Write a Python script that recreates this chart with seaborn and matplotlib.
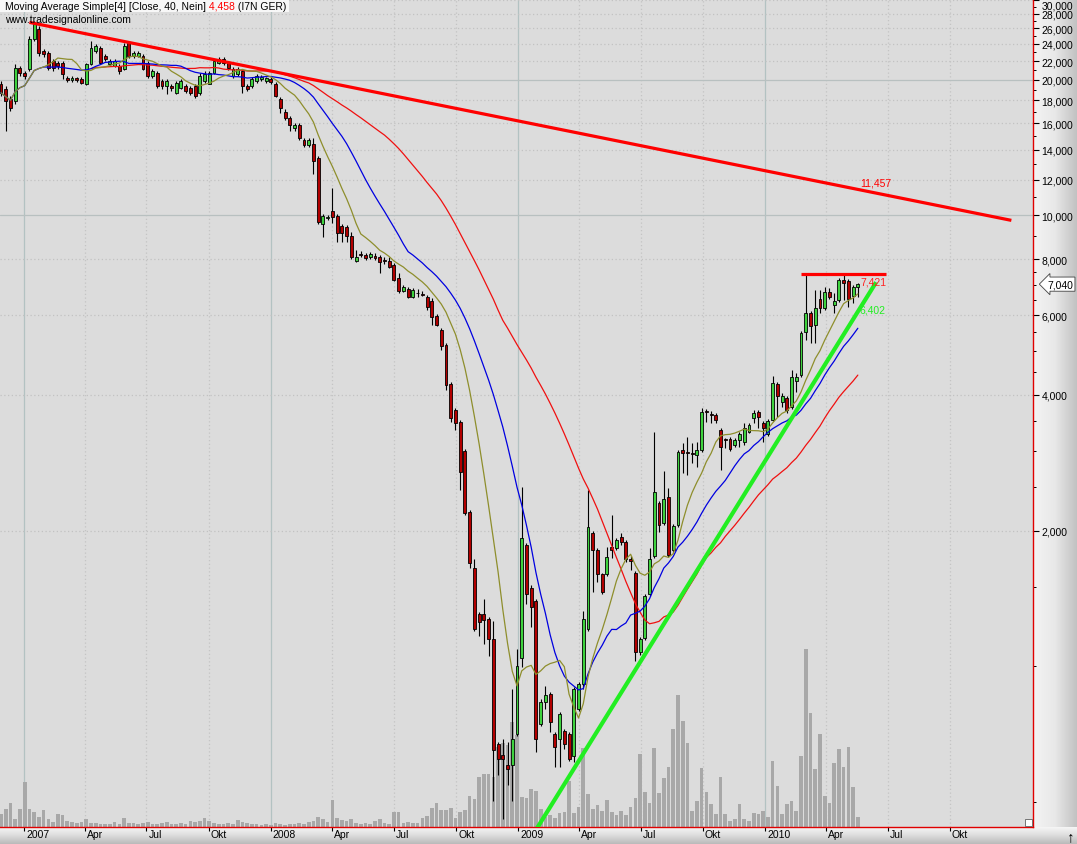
import numpy as np
import pandas as pd
import matplotlib
matplotlib.use("Agg")
import matplotlib.pyplot as plt
import matplotlib.ticker as mticker
import matplotlib.transforms as mtransforms
from matplotlib.colors import LinearSegmentedColormap
from matplotlib.patches import Rectangle
import seaborn as sns

# weekly bars, first bar is the week of 28 Nov 2006
WEEK_START = "2006-11-28"

OPEN = [
    19592, 19097, 18149, 17966, 21255, 20722, 21147, 24640, 25930, 23178,
    22946, 22027, 21806, 21806, 20199, 19995, 20199, 20097, 19592, 21694,
    23178, 23537, 22596, 21694, 21473, 21473, 21147, 24146, 22596, 22596,
    22596, 21806, 20406, 20722, 19892, 19392, 19392, 18713, 19195, 19392,
    19195, 19392, 18713, 19892, 19592, 20722, 21806, 22254, 21806, 20406,
    20616, 20932, 19392, 19392, 19892, 20097, 19892, 20097, 19592, 18149,
    16988, 16475, 15657, 15898, 14728, 14358, 14432, 13438, 9552, 9848,
    10205, 9949, 9455, 9407, 8985, 7911, 8198, 8156, 8074, 8115,
    8074, 7951, 7911, 7751, 7254, 6789, 6859, 6585, 6721, 6687,
    6585, 6453, 5977, 5565, 5157, 4228, 3705, 3484, 3005, 2202,
    1655, 1303, 1303, 1270, 1147, 672, 635, 604, 604, 707,
    1042, 1862, 1495, 1393, 744, 832, 867, 707, 689, 718,
    707, 632, 803, 912, 1207, 1979, 1815, 1598, 1598, 1843,
    1834, 1939, 1891, 1725, 1614, 1074, 1153, 1443, 1760, 2305,
    2082, 2378, 1815, 2061, 3020, 2990, 2974, 2944, 3020, 3686,
    3629, 3610, 3345, 3195, 3195, 3098, 3179, 3146, 3311, 3555,
    3666, 3466, 3277, 3519, 4228, 3858, 3937, 3761, 4292, 4426,
    5508, 6069, 5710, 6519, 6226, 6755, 6322, 6486, 7180, 7144,
    6619, 6929,
]
HIGH = [
    19892, 19392, 18429, 21694, 21473, 20932, 25020, 27008, 26329, 23416,
    23178, 22254, 22027, 22027, 20406, 20406, 20302, 20302, 21806, 24390,
    24022, 23777, 22829, 22254, 22254, 21694, 24146, 24390, 23178, 23178,
    22829, 22027, 21147, 20932, 20097, 20097, 19592, 19892, 20097, 19592,
    19392, 19592, 20722, 20932, 20932, 22254, 22481, 22481, 22027, 21364,
    21364, 21147, 19592, 20302, 20616, 20510, 20302, 20302, 19792, 18335,
    17248, 16644, 16062, 16062, 14879, 14879, 14879, 13575, 10051, 10000,
    11474, 10051, 9552, 9503, 9171, 8367, 8324, 8240, 8282, 8240,
    8156, 8074, 8074, 7831, 7442, 7000, 6929, 6894, 6859, 6789,
    6653, 6552, 6039, 5623, 5210, 4271, 3742, 3519, 3036, 2224,
    1725, 1316, 1407, 1283, 1258, 679, 689, 679, 889, 1090,
    2501, 1881, 1518, 1407, 845, 903, 876, 714, 791, 726,
    714, 898, 921, 1323, 2464, 1999, 1834, 1614, 1843, 2169,
    1929, 1979, 1910, 1760, 1630, 1159, 1443, 1834, 3311, 2329,
    2714, 2489, 2072, 3020, 3130, 3228, 3130, 3146, 3742, 3723,
    3686, 3647, 3379, 3211, 3228, 3211, 3311, 3466, 3466, 3705,
    3705, 3501, 3537, 4404, 4271, 4038, 3977, 4540, 4471, 5536,
    7366, 6131, 6824, 6824, 6929, 6894, 6721, 7254, 7366, 7217,
    7000, 7072,
]
LOW = [
    18429, 15418, 17073, 17693, 20406, 20097, 20932, 24390, 22596, 22481,
    21040, 20932, 21147, 20097, 19792, 19792, 19792, 19592, 19490, 21583,
    22946, 21694, 22027, 21473, 21364, 20616, 21040, 22367, 22367, 22481,
    21040, 20199, 20199, 19195, 19097, 18618, 18904, 18618, 19097, 18713,
    18523, 18242, 18523, 19692, 19592, 20616, 21694, 21583, 21040, 20199,
    20406, 18713, 18904, 19195, 19692, 19892, 19692, 19592, 18335, 16902,
    16310, 15418, 15418, 14728, 14212, 14212, 12386, 9552, 8939, 9748,
    9601, 8716, 8716, 8716, 7992, 7871, 8074, 7951, 7992, 7951,
    7442, 7791, 7634, 7144, 6721, 6755, 6552, 6552, 6585, 6619,
    6163, 5710, 5681, 5027, 4100, 3484, 3345, 2464, 2169, 1655,
    1195, 1165, 1118, 1052, 503, 574, 458, 545, 503, 700,
    995, 1371, 1219, 645, 736, 803, 714, 598, 598, 655,
    616, 613, 795, 889, 1195, 1458, 1534, 1443, 1582, 1742,
    1815, 1862, 1707, 1639, 1026, 1058, 1141, 1428, 1742, 1989,
    2061, 1751, 1796, 2040, 2686, 2659, 2826, 2770, 2990, 3484,
    3466, 3466, 2728, 3051, 3005, 3067, 3067, 3098, 3294, 3466,
    3379, 3146, 3244, 3501, 3573, 3761, 3647, 3723, 4059, 4381,
    5290, 5210, 5210, 6069, 6163, 6519, 6069, 6420, 6486, 6258,
    6387, 6585,
]
CLOSE = [
    18713, 17966, 17336, 21255, 20722, 20406, 24640, 26600, 22946, 22829,
    21255, 21255, 21473, 20616, 19995, 20199, 19995, 19692, 21694, 23537,
    23777, 21806, 22254, 22027, 22027, 20932, 23777, 22596, 22946, 22946,
    21147, 20406, 20932, 19392, 19392, 19892, 19195, 19692, 19892, 18904,
    18713, 18429, 20406, 20616, 20722, 22027, 22254, 21806, 21255, 21147,
    21147, 19392, 19097, 20097, 20406, 20302, 20199, 19792, 18429, 17336,
    16475, 15898, 15898, 14879, 14358, 14728, 13233, 9650, 9949, 9899,
    9899, 9123, 9123, 8985, 8074, 8074, 8180, 8033, 8198, 8033,
    7871, 7930, 7672, 7180, 6789, 6929, 6585, 6824, 6738, 6670,
    6258, 5947, 5710, 5131, 4206, 3555, 3466, 2700, 2191, 1698,
    1207, 1251, 1264, 1147, 652, 622, 622, 592, 689, 1000,
    1929, 1443, 1350, 689, 832, 863, 752, 662, 783, 672,
    622, 889, 912, 1270, 2040, 1815, 1598, 1458, 1751, 1815,
    1910, 1891, 1725, 1716, 1074, 1147, 1428, 1725, 2439, 2061,
    2354, 1769, 2051, 2990, 2974, 2974, 2959, 3020, 3666, 3666,
    3610, 3519, 3067, 3179, 3036, 3179, 3277, 3379, 3431, 3647,
    3573, 3379, 3501, 4250, 3977, 3977, 3705, 4381, 4381, 5480,
    6069, 5681, 6226, 6226, 6755, 6585, 6453, 7180, 7072, 6519,
    6929, 7040,
]
VOLUME = [
    13, 18, 24, 8, 18, 45, 18, 15, 10, 17,
    8, 5, 13, 12, 6, 5, 4, 5, 8, 4,
    4, 3, 3, 3, 5, 3, 9, 4, 4, 3,
    4, 5, 3, 3, 4, 5, 3, 3, 4, 3,
    6, 5, 6, 9, 6, 4, 3, 3, 4, 3,
    7, 5, 4, 3, 3, 2, 3, 2, 4, 3,
    2, 3, 3, 4, 3, 5, 6, 10, 8, 5,
    27, 9, 7, 6, 8, 4, 3, 4, 3, 6,
    8, 4, 3, 15, 15, 4, 5, 4, 4, 9,
    11, 19, 24, 17, 17, 19, 9, 15, 17, 31,
    28, 50, 53, 53, 50, 80, 84, 82, 105, 92,
    30, 29, 38, 36, 18, 10, 12, 9, 14, 15,
    46, 14, 20, 79, 33, 18, 22, 16, 27, 15,
    12, 16, 12, 20, 29, 73, 35, 24, 79, 34,
    49, 60, 98, 132, 106, 84, 16, 26, 59, 35,
    23, 13, 50, 13, 6, 8, 23, 8, 6, 14,
    13, 16, 10, 66, 41, 13, 23, 26, 16, 71,
    178, 114, 58, 93, 31, 24, 64, 78, 60, 80,
    40, 10,
]

# hand drawn lines on the chart
DOWNTREND_DATES = ["2007-01-09", "2010-12-31"]
DOWNTREND_VALUES = [26800, 9750]
UPTREND_DATES = ["2009-01-28", "2010-06-14"]
UPTREND_VALUES = [436, 7107]
RESISTANCE_DATES = ["2010-02-23", "2010-06-29"]
RESISTANCE_VALUE = 7421
LINE_LABELS = ["11,457", "7,421", "6,402"]

PRICE_TICKS = [2000, 4000, 6000, 8000, 10000, 12000, 14000, 16000, 18000,
               20000, 22000, 24000, 26000, 28000, 30000]
PRICE_MINOR = [500, 1000, 1500, 2500, 3000, 3500, 4500, 5000, 5500, 6500, 7000,
               7500, 9000, 11000, 13000, 15000, 17000, 19000, 21000, 23000,
               25000, 27000, 29000]
MONTH_TICKS = ["2007-01-01", "2007-04-01", "2007-07-01", "2007-10-01",
               "2008-01-01", "2008-04-01", "2008-07-01", "2008-10-01",
               "2009-01-01", "2009-04-01", "2009-07-01", "2009-10-01",
               "2010-01-01", "2010-04-01", "2010-07-01", "2010-10-01"]
MONTH_LABELS = ["2007", "Apr", "Jul", "Okt", "2008", "Apr", "Jul", "Okt",
                "2009", "Apr", "Jul", "Okt", "2010", "Apr", "Jul", "Okt"]

HEADER = "Moving Average Simple[4] [Close, 40, Nein]"
HEADER_VALUE = "4,458"
HEADER_TAIL = "(I7N GER)"
SOURCE = "www.tradesignalonline.com"

W, H = 1077, 845
PLOT_RIGHT, PLOT_BOTTOM = 1033, 828

dates = pd.date_range(WEEK_START, periods=len(CLOSE), freq="7D")
df = pd.DataFrame({"date": dates, "open": OPEN, "high": HIGH, "low": LOW,
                   "close": CLOSE, "volume": VOLUME})
df["sma10"] = df["close"].rolling(10, min_periods=1).mean()
df["sma20"] = df["close"].rolling(20, min_periods=1).mean()
df["sma40"] = df["close"].rolling(40, min_periods=20).mean()

sns.set_theme(style="white")
plt.rcParams["font.family"] = ["Liberation Sans", "DejaVu Sans"]
plt.rcParams["font.size"] = 7.5

fig = plt.figure(figsize=(W / 100, H / 100), dpi=100)
fig.patch.set_facecolor("#e6e6e6")

# gradient frame right and below the plot
bg = fig.add_axes([0, 0, 1, 1], zorder=-10)
side = LinearSegmentedColormap.from_list("side", ["#f4f4f4", "#e8e8e8", "#c2c2c2"])
foot = LinearSegmentedColormap.from_list("foot", ["#f6f6f6", "#dcdcdc", "#bababa"])
bg.imshow(np.linspace(0, 1, 100)[None, :], cmap=side, aspect="auto",
          extent=(PLOT_RIGHT, W, PLOT_BOTTOM, 0))
bg.imshow(np.linspace(0, 1, 100)[:, None], cmap=foot, aspect="auto",
          extent=(0, W, H, PLOT_BOTTOM))
bg.set_xlim(0, W)
bg.set_ylim(H, 0)
bg.set_axis_off()

rect = [0, (H - PLOT_BOTTOM) / H, PLOT_RIGHT / W, PLOT_BOTTOM / H]
ax_vol = fig.add_axes(rect)
ax_vol.set_facecolor("#dcdcdc")
ax = fig.add_axes(rect, sharex=ax_vol)
ax.set_facecolor("none")

month_ticks = pd.to_datetime(MONTH_TICKS)

# grid
for d, lab in zip(month_ticks, MONTH_LABELS):
    if lab.isdigit():
        ax_vol.axvline(d, color="#b3c2c2", lw=0.9, zorder=0)
    else:
        ax_vol.axvline(d, color="#c4c4c4", lw=0.9, ls=(0, (1, 2)), zorder=0)
for v in PRICE_TICKS:
    if v in (10000, 20000):
        ax.axhline(v, color="#b8c0c0", lw=0.9, zorder=0.5)
    else:
        ax.axhline(v, color="#c2c2c2", lw=0.9, ls=(0, (1, 2)), zorder=0.5)

# volume
ax_vol.bar(df["date"], df["volume"], width=5.4, color="#a8a8a8", linewidth=0, zorder=1)
ax_vol.set_ylim(0, PLOT_BOTTOM)
ax_vol.tick_params(left=False, bottom=False, labelleft=False, labelbottom=False)
for s in ax_vol.spines.values():
    s.set_visible(False)

# candles
up = df["close"] >= df["open"]
body_col = np.where(up, "#3ed23e", "#b20000")
ax.vlines(df["date"], df["low"], df["high"], color="black", linewidth=0.8, zorder=3)
ax.bar(df["date"], (df["close"] - df["open"]).abs(),
       bottom=np.minimum(df["open"], df["close"]), width=4.3,
       color=body_col, edgecolor="black", linewidth=0.6, zorder=4)

# moving averages
sns.lineplot(data=df, x="date", y="sma40", ax=ax, color="#f01010", linewidth=0.9, zorder=5)
sns.lineplot(data=df, x="date", y="sma20", ax=ax, color="#0000e0", linewidth=0.9, zorder=5)
sns.lineplot(data=df, x="date", y="sma10", ax=ax, color="#8e8e2c", linewidth=0.9, zorder=5)

# trend lines
ax.plot(pd.to_datetime(DOWNTREND_DATES), DOWNTREND_VALUES, color="#ff0000", lw=2.3,
        solid_capstyle="butt", zorder=6)
ax.plot(pd.to_datetime(UPTREND_DATES), UPTREND_VALUES, color="#22ee22", lw=3.0,
        solid_capstyle="butt", zorder=6)
ax.plot(pd.to_datetime(RESISTANCE_DATES), [RESISTANCE_VALUE] * 2, color="#ff0000",
        lw=2.3, solid_capstyle="butt", zorder=6)
ax.text(pd.Timestamp("2010-05-21"), 11830, LINE_LABELS[0], color="#ff0000",
        fontsize=7.5, ha="left", va="center", zorder=7)
ax.text(pd.Timestamp("2010-05-22"), 7144, LINE_LABELS[1], color="#ff2020",
        fontsize=7.5, ha="left", va="center", zorder=7)
ax.text(pd.Timestamp("2010-05-20"), 6194, LINE_LABELS[2], color="#22ee22",
        fontsize=7.5, ha="left", va="center", zorder=7)

# axes
ax.set_yscale("log")
ax.set_ylim(440, 30200)
ax.set_xlim(pd.Timestamp("2006-11-26 12:00"), pd.Timestamp("2011-02-01"))
ax.set_xlabel("")
ax.set_ylabel("")
ax.yaxis.tick_right()
ax.yaxis.set_major_locator(mticker.FixedLocator(PRICE_TICKS))
ax.yaxis.set_major_formatter(mticker.FuncFormatter(lambda v, p: f"{v:,.0f}"))
ax.yaxis.set_minor_locator(mticker.FixedLocator(PRICE_MINOR))
ax.yaxis.set_minor_formatter(mticker.NullFormatter())
ax.tick_params(axis="y", which="major", direction="out", length=4, width=0.8,
               color="black", pad=2, labelsize=7.5, labelcolor="black",
               right=True, left=False)
ax.tick_params(axis="y", which="minor", direction="out", length=2.5, width=0.7,
               color="black", right=True, left=False)
ax.set_xticks(month_ticks)
ax.set_xticklabels([])
ax.tick_params(axis="x", which="both", direction="out", length=3, width=0.8,
               color="black", bottom=True)
for name in ("top", "left"):
    ax.spines[name].set_visible(False)
for name in ("right", "bottom"):
    ax.spines[name].set_color("#e00000")
    ax.spines[name].set_linewidth(1.0)

xlab_trans = mtransforms.blended_transform_factory(ax.transData, ax.transAxes) + \
    mtransforms.ScaledTranslation(2 / 100, 0, fig.dpi_scale_trans)
for d, lab in zip(month_ticks, MONTH_LABELS):
    ax.text(d, -0.003, lab, transform=xlab_trans, ha="left", va="top",
            fontsize=7.5, color="black", clip_on=False)

# last price marker
box_trans = mtransforms.blended_transform_factory(ax.transAxes, ax.transData) + \
    mtransforms.ScaledTranslation(14 / 100, 0, fig.dpi_scale_trans)
ax.text(1.0, CLOSE[-1], f"{CLOSE[-1]:,}", transform=box_trans, ha="left", va="center",
        fontsize=7.5, color="black", clip_on=False, zorder=10,
        bbox=dict(boxstyle="larrow,pad=0.2", fc="white", ec="#404040", lw=0.6))

# header
fig.canvas.draw()
# keep the top price label inside the figure
for tick in ax.yaxis.get_major_ticks():
    if tick.get_loc() == PRICE_TICKS[-1]:
        tick.label2.set_verticalalignment("top")
renderer = fig.canvas.get_renderer()
x_px = 5
pieces = [(HEADER, "black"), (" " + HEADER_VALUE, "#ff0000"), (" " + HEADER_TAIL, "black")]
for text, col in pieces:
    t = fig.text(x_px / W, 1 - 6.5 / H, text, color=col, fontsize=7.5,
                 ha="left", va="center", zorder=9)
    x_px = t.get_window_extent(renderer).x1
fig.add_artist(Rectangle((0, 1 - 13 / H), (x_px + 3) / W, 13 / H,
                         transform=fig.transFigure, fc="#f7f7f7", ec="none", zorder=8))
fig.text(5 / W, 1 - 20 / H, SOURCE, color="black", fontsize=7.5,
         ha="left", va="center", zorder=9)

# small corner widgets
fig.add_artist(Rectangle(((PLOT_RIGHT - 8) / W, (H - PLOT_BOTTOM + 1) / H), 7 / W, 7 / H,
                         transform=fig.transFigure, fc="white", ec="#606060", lw=0.6, zorder=9))
fig.text(1071 / W, 1 - 837 / H, "↑", color="black", fontsize=11,
         ha="center", va="center")

fig.savefig("out.png", dpi=100, facecolor=fig.get_facecolor())
